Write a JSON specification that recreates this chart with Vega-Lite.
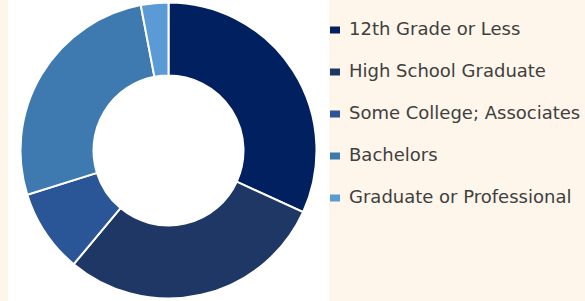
{
  "$schema": "https://vega.github.io/schema/vega-lite/v6.json",
  "width": 321,
  "height": 301,
  "autosize": {"type": "none"},
  "padding": {"left": 8, "right": 256, "top": 0, "bottom": 0},
  "background": "#fef6ea",
  "view": {"fill": "white", "stroke": null},
  "data": {"values": [
    {"category": "12th Grade or Less", "pct": 31.8, "order": 1},
    {"category": "High School Graduate", "pct": 29.2, "order": 2},
    {"category": "Some College; Associates", "pct": 9.1, "order": 3},
    {"category": "Bachelors", "pct": 26.8, "order": 4},
    {"category": "Graduate or Professional", "pct": 3.0, "order": 5}
  ]},
  "mark": {"type": "arc", "innerRadius": 75, "outerRadius": 148, "stroke": "white", "strokeWidth": 2},
  "encoding": {
    "theta": {"field": "pct", "type": "quantitative", "stack": true},
    "order": {"field": "order", "type": "quantitative"},
    "color": {
      "field": "category",
      "type": "nominal",
      "sort": ["12th Grade or Less", "High School Graduate", "Some College; Associates", "Bachelors", "Graduate or Professional"],
      "scale": {
        "domain": ["12th Grade or Less", "High School Graduate", "Some College; Associates", "Bachelors", "Graduate or Professional"],
        "range": ["#012060", "#1e3765", "#2a5597", "#3e7ab0", "#5a9bd5"]
      },
      "legend": {
        "title": null,
        "orient": "none",
        "legendX": 318,
        "legendY": 21,
        "symbolType": "M-1,-0.7H1V0.7H-1Z",
        "symbolSize": 100,
        "symbolStrokeWidth": 0,
        "labelFont": "DejaVu Sans",
        "labelFontSize": 18,
        "labelColor": "#404040",
        "labelOffset": 5,
        "rowPadding": 24,
        "labelLimit": 300
      }
    }
  }
}
